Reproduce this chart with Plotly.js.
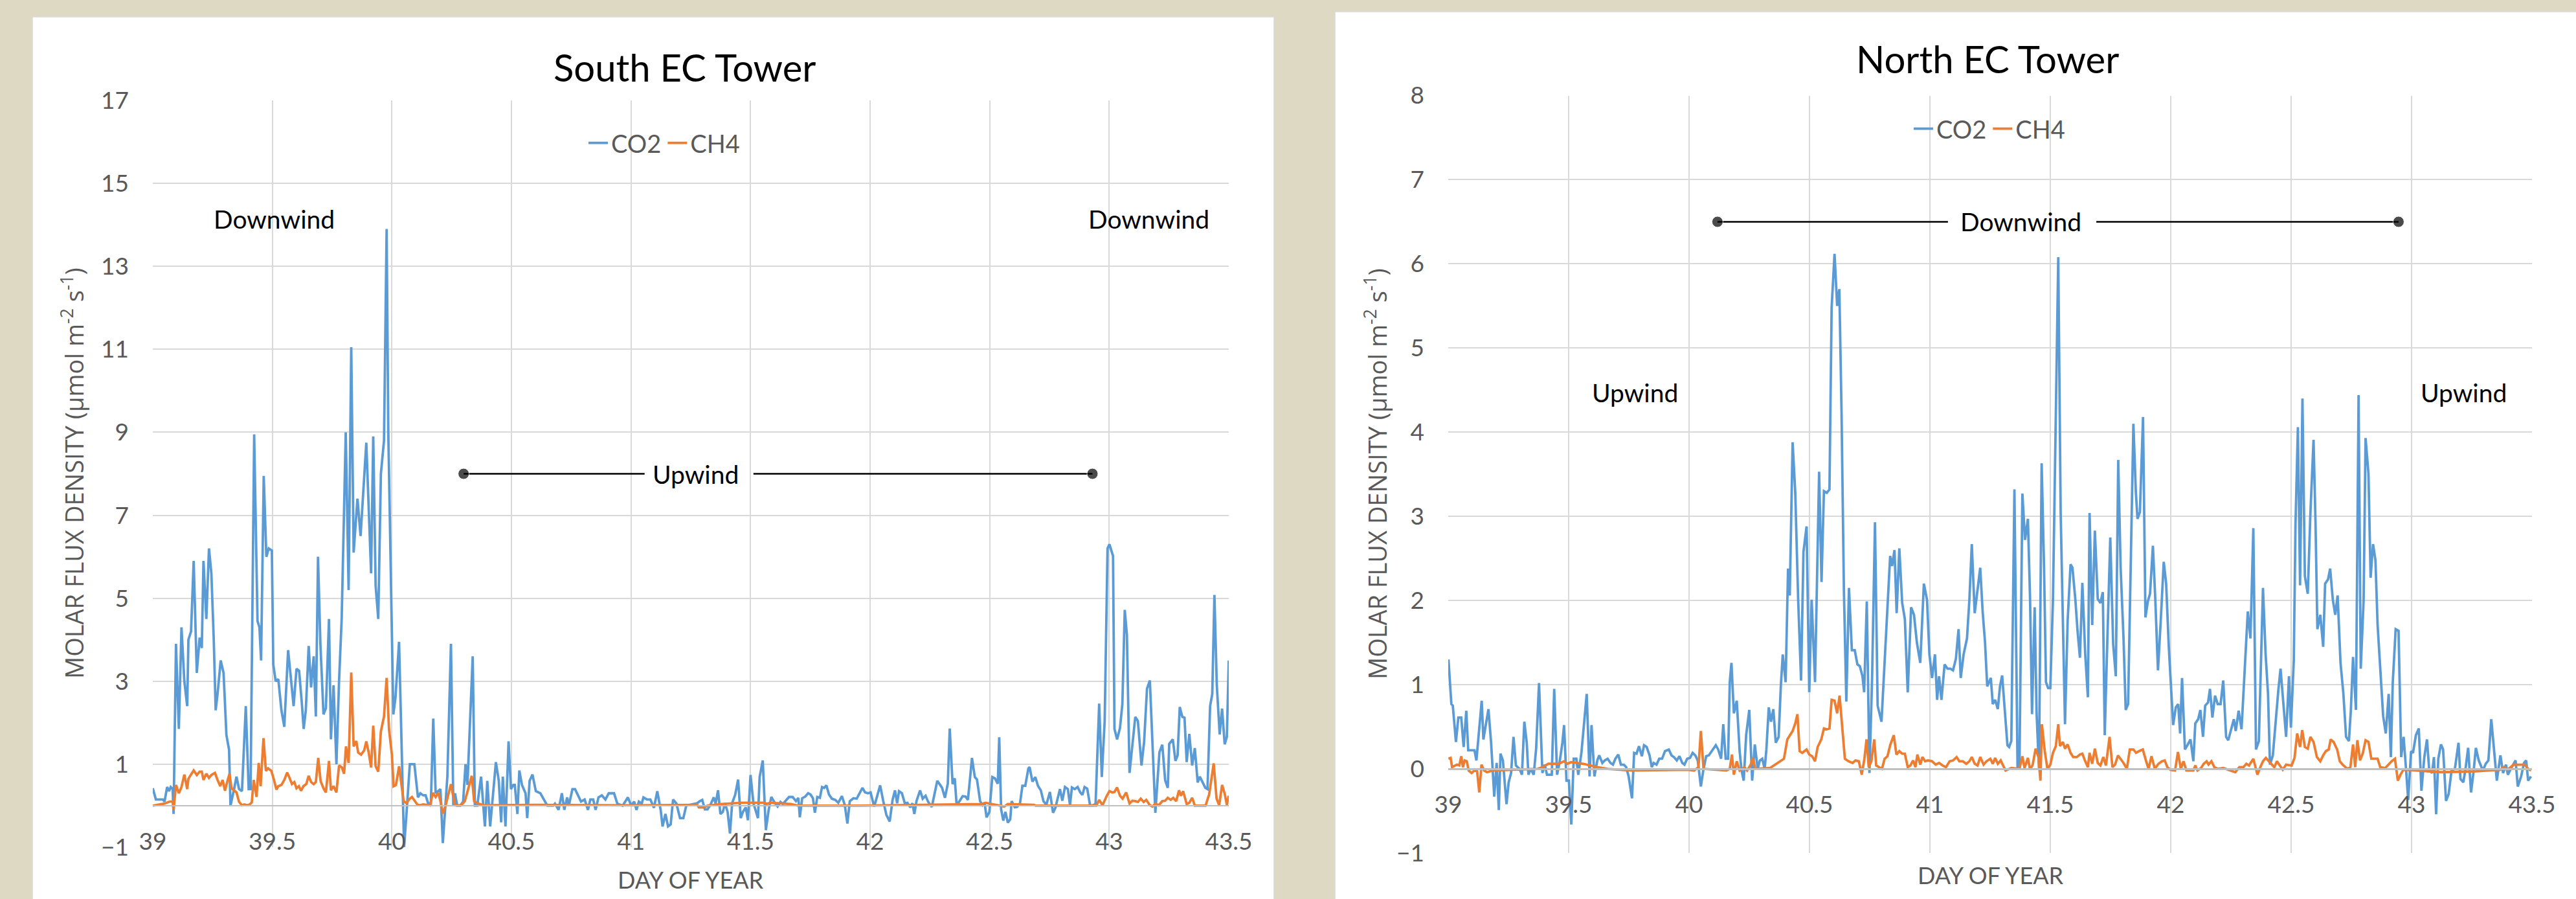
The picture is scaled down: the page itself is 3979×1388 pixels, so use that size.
<!DOCTYPE html>
<html>
<head>
<meta charset="utf-8">
<script src="https://cdn.plot.ly/plotly-3.0.1.min.js"></script>
<style>
  html, body { margin: 0; padding: 0; background: #DDD9C3; }
  #chart { width: 3979px; height: 1388px; }
</style>
</head>
<body>
<div id="chart"></div>
<script>
// ---------- DATA (day of year, molar flux density µmol m-2 s-1) ----------
const southCO2Day = [39.000,39.013,39.042,39.049,39.060,39.068,39.075,39.083,39.087,39.097,39.109,39.120,39.132,39.144,39.149,39.160,39.171,39.184,39.196,39.205,39.212,39.224,39.235,39.245,39.255,39.263,39.271,39.284,39.296,39.308,39.319,39.325,39.340,39.350,39.361,39.373,39.389,39.401,39.409,39.424,39.438,39.446,39.453,39.464,39.475,39.485,39.498,39.504,39.514,39.525,39.538,39.550,39.566,39.576,39.589,39.601,39.612,39.623,39.631,39.640,39.652,39.662,39.673,39.682,39.691,39.701,39.714,39.724,39.737,39.745,39.756,39.768,39.779,39.790,39.807,39.819,39.830,39.840,39.856,39.869,39.893,39.913,39.922,39.932,39.943,39.954,39.967,39.978,39.985,40.006,40.015,40.030,40.044,40.051,40.061,40.067,40.075,40.094,40.109,40.119,40.131,40.141,40.152,40.163,40.173,40.183,40.193,40.203,40.213,40.222,40.232,40.247,40.257,40.264,40.273,40.286,40.298,40.308,40.316,40.338,40.347,40.357,40.373,40.389,40.399,40.411,40.435,40.447,40.457,40.464,40.475,40.488,40.498,40.508,40.514,40.525,40.533,40.544,40.559,40.566,40.576,40.588,40.602,40.621,40.639,40.650,40.675,40.682,40.697,40.711,40.721,40.733,40.740,40.755,40.766,40.779,40.791,40.806,40.820,40.830,40.842,40.852,40.864,40.878,40.893,40.907,40.922,40.929,40.943,40.965,40.987,41.001,41.013,41.023,41.033,41.045,41.052,41.067,41.081,41.096,41.110,41.124,41.132,41.144,41.155,41.166,41.176,41.190,41.205,41.219,41.231,41.277,41.288,41.298,41.309,41.320,41.332,41.346,41.354,41.364,41.374,41.384,41.393,41.404,41.414,41.423,41.436,41.448,41.459,41.468,41.480,41.489,41.500,41.512,41.520,41.531,41.538,41.551,41.564,41.576,41.587,41.599,41.613,41.625,41.635,41.647,41.661,41.676,41.690,41.700,41.706,41.716,41.729,41.741,41.751,41.761,41.769,41.779,41.790,41.799,41.808,41.817,41.828,41.840,41.854,41.867,41.882,41.894,41.905,41.915,41.930,41.944,41.956,41.968,41.979,41.991,42.002,42.017,42.029,42.042,42.055,42.068,42.082,42.094,42.104,42.113,42.121,42.133,42.145,42.156,42.168,42.177,42.185,42.194,42.209,42.220,42.232,42.243,42.258,42.271,42.281,42.293,42.301,42.313,42.325,42.333,42.345,42.354,42.362,42.374,42.387,42.399,42.409,42.418,42.426,42.438,42.447,42.460,42.470,42.479,42.487,42.499,42.511,42.522,42.534,42.540,42.548,42.557,42.566,42.576,42.586,42.592,42.605,42.615,42.627,42.637,42.649,42.662,42.667,42.679,42.691,42.702,42.714,42.725,42.737,42.752,42.765,42.775,42.786,42.794,42.804,42.815,42.827,42.836,42.844,42.856,42.868,42.879,42.888,42.897,42.908,42.920,42.932,42.943,42.958,42.969,42.981,42.993,43.001,43.016,43.022,43.033,43.045,43.055,43.065,43.074,43.085,43.097,43.109,43.120,43.135,43.146,43.158,43.170,43.178,43.193,43.210,43.222,43.234,43.245,43.251,43.266,43.277,43.286,43.295,43.306,43.315,43.324,43.335,43.347,43.358,43.370,43.379,43.390,43.402,43.411,43.422,43.431,43.440,43.450,43.462,43.472,43.483,43.492,43.500];
const southCO2 = [0.42,0.15,0.15,0.10,0.45,0.35,0.45,0.40,-0.20,3.90,1.85,4.30,3.00,2.40,4.00,4.20,5.90,3.20,4.05,3.80,5.90,4.50,6.20,5.60,4.00,2.30,2.70,3.50,3.20,1.70,1.35,0.00,0.40,0.70,0.40,0.35,2.40,0.40,0.40,8.95,4.45,4.30,3.50,7.95,6.00,6.20,6.15,3.40,3.00,3.05,2.30,1.90,3.75,3.10,2.40,3.30,3.25,2.50,1.85,2.30,3.85,2.85,3.60,2.15,6.00,3.90,2.20,2.35,4.50,1.60,2.90,1.00,3.00,4.50,9.00,5.20,11.05,6.10,7.40,6.50,8.75,5.60,8.90,5.30,4.50,8.00,8.80,13.90,9.00,2.20,2.60,3.95,0.45,-1.00,-0.20,0.40,1.00,1.00,0.20,0.30,0.25,0.25,0.05,0.05,2.10,0.30,0.35,0.40,-0.90,-0.10,0.70,3.90,0.00,0.30,0.00,0.00,0.10,1.00,0.50,3.60,0.00,0.00,0.70,-0.50,0.60,-0.50,1.05,0.60,-0.40,0.70,-0.50,1.55,0.40,0.50,0.50,-0.20,0.85,0.50,0.30,-0.30,0.60,0.75,0.35,0.30,0.10,0.00,0.00,0.05,-0.10,0.30,-0.10,0.20,0.00,0.40,0.40,0.25,0.10,0.15,-0.10,0.15,0.15,-0.10,0.20,0.25,0.15,0.30,0.30,0.30,0.05,0.00,0.20,0.00,0.10,-0.10,0.10,0.05,0.20,0.15,0.15,-0.05,0.35,-0.10,-0.50,-0.20,-0.50,-0.45,0.15,0.05,-0.30,-0.30,0.00,0.06,0.11,0.14,-0.09,-0.09,0.02,0.20,0.05,0.37,-0.20,-0.15,0.06,-0.15,-0.67,0.06,0.27,0.63,-0.30,-0.15,-0.04,-0.35,0.74,0.06,-0.09,-0.30,0.69,1.09,-0.59,-0.09,0.21,0.09,-0.02,0.09,0.04,0.11,0.21,0.21,0.11,0.19,-0.28,0.18,0.22,0.30,0.27,0.18,-0.17,0.21,0.19,0.45,0.43,0.49,0.27,0.17,0.14,0.07,0.23,0.02,-0.43,0.11,0.18,0.17,0.30,0.43,0.32,0.30,0.32,-0.02,0.22,0.49,0.11,-0.22,-0.38,0.14,0.37,0.06,0.35,0.30,0.06,0.07,-0.04,0.06,-0.20,0.11,0.37,0.17,0.24,0.09,-0.03,0.32,0.60,0.50,0.43,0.19,0.53,1.86,0.52,0.66,0.01,0.11,0.23,0.22,0.14,0.66,1.15,0.69,0.63,0.11,0.01,0.06,-0.28,-0.15,0.69,0.66,0.53,1.65,-0.09,-0.36,-0.15,-0.41,-0.33,0.11,-0.04,-0.03,0.06,0.48,0.48,0.90,0.93,0.58,0.69,0.48,0.37,0.11,0.02,0.33,-0.17,-0.05,0.23,0.40,0.12,0.45,0.40,0.01,0.44,0.40,0.45,0.32,0.26,0.45,0.41,0.01,0.01,0.04,2.46,0.69,2.04,6.20,6.30,6.02,1.85,1.60,1.87,2.45,4.72,4.12,0.79,1.42,2.14,2.04,0.97,1.54,2.82,3.02,1.93,-0.17,1.29,1.47,0.61,0.43,1.49,1.60,1.08,1.21,2.38,2.14,2.12,1.05,1.73,0.97,1.39,0.56,0.70,0.58,0.43,0.40,2.40,2.69,5.08,2.90,1.72,2.34,1.48,1.66,3.50];

const southCH4Day = [39.000,39.049,39.071,39.083,39.087,39.097,39.109,39.120,39.132,39.144,39.149,39.160,39.171,39.184,39.196,39.205,39.212,39.224,39.235,39.245,39.260,39.271,39.282,39.292,39.302,39.311,39.321,39.329,39.340,39.350,39.361,39.373,39.383,39.395,39.405,39.414,39.422,39.434,39.443,39.451,39.463,39.473,39.482,39.496,39.507,39.517,39.525,39.538,39.550,39.562,39.572,39.582,39.592,39.601,39.611,39.620,39.630,39.642,39.652,39.662,39.673,39.682,39.692,39.702,39.714,39.724,39.737,39.745,39.756,39.768,39.779,39.791,39.800,39.808,39.819,39.830,39.840,39.851,39.859,39.871,39.884,39.893,39.903,39.913,39.922,39.932,39.943,39.954,39.967,39.978,39.988,40.000,40.007,40.017,40.030,40.041,40.049,40.061,40.073,40.084,40.096,40.106,40.116,40.131,40.160,40.171,40.183,40.194,40.203,40.213,40.225,40.239,40.247,40.257,40.264,40.290,40.305,40.319,40.334,40.344,40.356,40.385,40.600,41.000,41.233,41.277,41.284,41.306,41.320,41.378,41.465,41.560,41.567,41.581,41.669,41.698,41.959,42.365,42.467,42.482,42.547,42.561,42.576,42.685,42.692,42.946,42.958,42.972,42.990,43.001,43.013,43.022,43.033,43.045,43.056,43.071,43.085,43.097,43.109,43.120,43.132,43.144,43.155,43.170,43.181,43.193,43.207,43.222,43.234,43.245,43.257,43.268,43.280,43.292,43.300,43.309,43.324,43.335,43.347,43.358,43.403,43.418,43.437,43.449,43.460,43.472,43.483,43.492,43.500];
const southCH4 = [0.00,0.05,0.10,0.10,-0.10,0.50,0.30,0.45,0.75,0.40,0.65,0.75,0.85,0.74,0.82,0.82,0.62,0.77,0.67,0.74,0.79,0.62,0.47,0.62,0.36,0.57,0.77,0.42,0.37,0.32,0.09,0.01,0.03,0.01,0.03,0.08,0.62,0.21,1.03,0.47,1.63,0.84,0.90,0.84,0.62,0.39,0.47,0.50,0.62,0.80,0.67,0.52,0.57,0.42,0.47,0.36,0.47,0.52,0.72,0.57,0.52,0.57,1.15,0.59,0.42,0.32,1.08,0.37,0.47,0.32,0.97,0.92,0.77,1.43,1.03,3.21,1.43,1.56,1.28,1.23,1.33,1.55,1.28,0.92,1.93,0.95,0.82,1.79,2.15,3.08,1.84,1.23,0.47,0.50,0.95,0.52,0.11,0.06,0.16,0.21,0.11,0.03,0.01,0.03,0.01,0.31,0.21,0.31,0.11,-0.19,0.01,0.31,0.52,0.21,0.01,0.01,0.11,0.40,0.72,0.11,0.06,0.01,0.02,0.01,0.02,0.02,-0.04,-0.04,0.00,0.04,0.07,0.07,0.04,0.07,0.04,0.00,0.00,0.04,0.04,0.07,0.00,-0.02,0.04,0.02,0.00,0.00,0.14,0.01,0.24,0.35,0.32,0.33,0.44,0.24,0.17,0.32,0.05,0.12,0.11,0.09,0.17,0.09,0.14,0.01,-0.02,0.05,0.01,0.11,0.12,0.19,0.14,0.19,0.11,0.37,0.24,0.35,0.04,0.07,0.19,0.00,0.00,0.27,1.02,0.17,0.01,0.50,0.29,0.02,0.24];

const northCO2Day = [39.001,39.013,39.019,39.032,39.042,39.054,39.064,39.075,39.083,39.094,39.109,39.117,39.126,39.139,39.146,39.155,39.167,39.178,39.191,39.201,39.210,39.217,39.227,39.242,39.251,39.261,39.271,39.281,39.296,39.306,39.316,39.326,39.333,39.343,39.355,39.365,39.377,39.391,39.401,39.410,39.420,39.430,39.440,39.452,39.462,39.474,39.481,39.491,39.501,39.511,39.521,39.532,39.540,39.553,39.575,39.587,39.595,39.607,39.619,39.627,39.640,39.650,39.662,39.674,39.684,39.694,39.706,39.717,39.729,39.739,39.749,39.763,39.772,39.782,39.792,39.804,39.813,39.824,39.836,39.845,39.853,39.865,39.876,39.888,39.900,39.916,39.927,39.937,39.949,39.960,39.972,39.981,39.992,40.004,40.015,40.026,40.036,40.049,40.059,40.071,40.082,40.097,40.111,40.121,40.133,40.142,40.152,40.162,40.169,40.176,40.186,40.198,40.210,40.218,40.227,40.237,40.250,40.262,40.273,40.285,40.294,40.304,40.314,40.321,40.331,40.340,40.350,40.360,40.372,40.381,40.389,40.401,40.411,40.418,40.430,40.441,40.453,40.465,40.475,40.488,40.499,40.509,40.523,40.540,40.550,40.560,40.572,40.583,40.592,40.604,40.615,40.624,40.633,40.643,40.653,40.664,40.676,40.688,40.699,40.709,40.720,40.727,40.738,40.749,40.760,40.772,40.783,40.799,40.812,40.824,40.835,40.843,40.853,40.862,40.873,40.885,40.896,40.908,40.922,40.934,40.946,40.960,40.975,40.988,40.998,41.009,41.021,41.030,41.038,41.048,41.061,41.073,41.085,41.096,41.108,41.119,41.128,41.140,41.154,41.164,41.174,41.186,41.198,41.209,41.219,41.229,41.238,41.253,41.261,41.271,41.282,41.291,41.300,41.311,41.322,41.329,41.338,41.351,41.364,41.372,41.384,41.395,41.407,41.416,41.424,41.435,41.443,41.453,41.464,41.474,41.482,41.491,41.500,41.511,41.523,41.533,41.543,41.552,41.561,41.572,41.584,41.592,41.604,41.613,41.623,41.633,41.645,41.656,41.663,41.674,41.685,41.697,41.708,41.718,41.726,41.737,41.749,41.761,41.772,41.782,41.792,41.804,41.813,41.823,41.833,41.845,41.855,41.862,41.872,41.885,41.895,41.905,41.914,41.926,41.936,41.947,41.958,41.971,41.981,41.992,42.010,42.021,42.031,42.039,42.047,42.059,42.071,42.082,42.094,42.102,42.114,42.123,42.134,42.143,42.155,42.163,42.173,42.184,42.195,42.207,42.218,42.230,42.239,42.250,42.262,42.270,42.282,42.294,42.305,42.320,42.331,42.343,42.354,42.366,42.383,42.394,42.404,42.412,42.424,42.436,42.447,42.456,42.467,42.479,42.491,42.499,42.511,42.518,42.528,42.537,42.547,42.557,42.569,42.580,42.593,42.601,42.609,42.621,42.633,42.641,42.653,42.662,42.673,42.683,42.693,42.705,42.717,42.728,42.740,42.748,42.757,42.769,42.780,42.789,42.801,42.809,42.821,42.830,42.840,42.850,42.859,42.870,42.882,42.893,42.905,42.914,42.922,42.934,42.946,42.957,42.967,42.977,42.986,42.998,43.006,43.018,43.030,43.041,43.053,43.064,43.073,43.085,43.093,43.102,43.111,43.122,43.131,43.143,43.154,43.166,43.180,43.195,43.203,43.215,43.224,43.235,43.247,43.258,43.267,43.279,43.287,43.296,43.308,43.319,43.331,43.342,43.354,43.369,43.380,43.392,43.400,43.412,43.424,43.432,43.441,43.455,43.467,43.476,43.484,43.496];
const northCO2 = [1.30,0.77,0.75,0.32,0.61,0.61,0.26,0.69,0.22,0.22,0.22,0.10,0.42,0.81,0.35,0.52,0.71,0.31,-0.33,0.07,-0.49,0.18,0.10,-0.42,-0.16,-0.05,0.38,0.04,0.00,-0.07,0.56,0.31,-0.07,0.00,-0.07,0.24,1.02,-0.05,0.05,-0.07,-0.07,-0.07,0.95,-0.07,0.07,0.31,0.52,-0.14,-0.14,-0.66,0.12,0.12,-0.07,0.19,0.89,-0.09,0.52,-0.09,0.10,0.16,0.07,0.10,0.12,0.07,0.05,0.12,0.17,0.05,0.05,0.02,-0.09,-0.35,0.19,0.18,0.27,0.15,0.28,0.26,0.16,0.02,0.07,0.05,0.12,0.12,0.21,0.23,0.16,0.14,0.10,0.15,0.07,0.05,0.12,0.13,0.19,0.16,0.10,-0.21,-0.02,0.15,0.16,0.22,0.28,0.23,0.12,0.53,0.12,0.12,1.03,1.26,0.66,0.81,0.21,-0.02,-0.14,0.40,0.70,-0.14,0.29,0.00,0.10,0.12,0.00,0.23,0.73,0.56,0.71,0.31,0.38,0.98,1.36,1.03,2.38,2.06,3.88,3.28,2.01,1.05,2.58,2.88,0.91,2.01,1.03,3.53,2.22,3.30,3.28,3.32,5.48,6.12,5.50,5.70,4.26,2.11,0.80,2.15,1.41,1.41,1.24,1.22,1.10,0.91,1.99,-0.05,1.08,2.93,0.75,0.56,1.31,1.92,2.53,2.41,2.60,1.85,2.62,1.97,1.78,0.91,1.92,1.83,1.50,1.26,2.20,2.01,1.36,1.08,1.36,0.82,1.10,0.82,1.24,1.19,1.19,1.17,1.31,1.66,1.08,1.36,1.55,2.01,2.67,1.85,2.11,2.39,1.87,1.50,0.98,1.08,0.77,0.82,0.71,0.98,1.11,0.70,0.28,0.26,0.33,3.32,0.00,0.05,3.27,2.72,2.97,2.01,0.65,1.92,0.66,0.00,3.63,2.39,1.03,0.96,0.96,2.01,4.45,6.08,3.04,1.59,0.53,1.76,2.43,2.39,2.01,1.64,1.32,2.21,1.36,0.85,3.04,1.71,2.83,2.02,1.97,2.10,0.40,1.55,2.75,1.48,1.10,3.67,2.39,1.55,0.70,0.77,2.20,4.10,3.30,2.97,3.05,4.18,1.80,1.99,2.08,2.65,2.01,1.17,1.73,2.46,2.20,1.45,0.52,0.73,0.77,0.42,1.08,0.23,0.29,0.35,0.09,0.54,0.59,0.70,0.38,0.75,0.79,0.95,0.61,0.87,0.77,0.77,1.05,0.38,0.34,0.47,0.59,0.45,0.69,0.47,1.08,1.87,1.55,2.86,0.23,0.33,2.15,1.36,0.89,0.05,0.16,0.59,0.94,1.19,0.82,0.38,1.10,0.49,1.29,2.90,4.06,2.18,4.40,2.29,2.08,3.04,3.91,2.95,1.66,1.83,1.45,2.20,2.25,2.38,2.01,1.83,2.06,1.26,0.89,0.38,0.33,0.70,1.33,0.70,4.44,1.19,2.01,3.93,3.51,2.27,2.67,2.48,1.71,1.17,0.63,0.42,0.89,0.14,1.03,1.66,1.64,0.14,0.38,0.00,-0.37,0.21,0.19,0.40,0.48,-0.26,0.14,0.35,0.00,-0.05,0.14,-0.54,0.12,0.29,0.23,-0.38,-0.30,-0.02,0.00,0.31,-0.12,-0.16,0.00,0.25,-0.28,-0.02,0.25,0.10,0.05,-0.02,0.06,0.10,0.59,0.23,-0.14,0.16,-0.05,0.05,-0.07,0.00,0.07,0.10,-0.21,-0.09,0.07,0.10,-0.14,-0.09];

const northCH4Day = [39.001,39.010,39.016,39.036,39.046,39.054,39.061,39.068,39.077,39.085,39.097,39.109,39.120,39.129,39.138,39.149,39.161,39.184,39.271,39.372,39.391,39.416,39.459,39.481,39.495,39.510,39.532,39.561,39.590,39.619,39.662,39.763,39.995,40.021,40.039,40.049,40.060,40.126,40.155,40.169,40.178,40.186,40.198,40.210,40.230,40.241,40.256,40.265,40.275,40.336,40.357,40.372,40.394,40.408,40.420,40.430,40.441,40.450,40.459,40.470,40.488,40.499,40.511,40.523,40.534,40.549,40.560,40.572,40.583,40.592,40.604,40.615,40.625,40.636,40.647,40.662,40.679,40.691,40.705,40.717,40.728,40.737,40.746,40.757,40.769,40.777,40.801,40.812,40.824,40.835,40.850,40.861,40.873,40.885,40.896,40.908,40.919,40.930,40.940,40.948,40.960,40.969,40.980,40.992,41.009,41.024,41.038,41.053,41.067,41.082,41.096,41.111,41.122,41.137,41.151,41.164,41.174,41.186,41.198,41.209,41.223,41.235,41.251,41.261,41.271,41.282,41.294,41.304,41.314,41.338,41.372,41.384,41.393,41.407,41.416,41.427,41.439,41.451,41.459,41.465,41.477,41.488,41.500,41.511,41.523,41.533,41.540,41.552,41.561,41.572,41.584,41.595,41.610,41.623,41.633,41.645,41.656,41.663,41.674,41.685,41.697,41.708,41.720,41.731,41.746,41.758,41.769,41.781,41.792,41.804,41.818,41.830,41.845,41.856,41.868,41.884,41.898,41.908,41.920,41.934,41.949,41.963,41.975,41.986,41.998,42.018,42.030,42.042,42.053,42.065,42.094,42.102,42.111,42.126,42.137,42.149,42.157,42.169,42.181,42.195,42.218,42.241,42.268,42.285,42.302,42.314,42.325,42.343,42.360,42.372,42.383,42.395,42.407,42.418,42.430,42.441,42.453,42.465,42.479,42.502,42.514,42.525,42.537,42.546,42.557,42.569,42.580,42.593,42.607,42.621,42.633,42.644,42.656,42.664,42.676,42.691,42.702,42.714,42.734,42.746,42.757,42.766,42.775,42.786,42.798,42.809,42.821,42.833,42.859,42.870,42.891,42.917,42.931,42.943,42.954,42.966,43.021,43.122,43.267,43.369,43.383,43.398,43.424,43.470,43.484,43.496];
const northCH4 = [0.12,0.13,0.02,0.05,0.04,0.15,0.02,0.10,0.09,-0.02,-0.05,-0.02,-0.03,-0.28,0.05,-0.02,-0.04,-0.02,-0.01,0.00,0.02,0.06,0.06,0.09,0.06,0.08,0.07,0.06,0.04,0.02,0.00,-0.02,-0.01,-0.02,0.02,0.45,0.00,-0.01,-0.02,0.00,0.17,-0.07,0.09,-0.02,0.02,-0.02,0.05,0.13,0.00,0.01,0.05,0.07,0.12,0.35,0.40,0.45,0.54,0.65,0.21,0.19,0.23,0.17,0.15,0.09,0.26,0.35,0.48,0.47,0.48,0.82,0.81,0.66,0.87,0.47,0.12,0.09,0.07,0.10,0.09,-0.07,0.12,0.35,0.02,0.09,0.35,0.04,0.00,0.12,0.15,0.28,0.40,0.17,0.21,0.18,0.18,0.02,0.04,0.10,0.02,0.17,0.05,0.14,0.09,0.10,0.09,0.05,0.07,0.04,0.02,0.09,0.10,0.14,0.09,0.09,0.06,0.09,0.14,0.06,0.04,0.14,0.05,0.09,0.12,0.06,0.13,0.06,0.10,0.04,-0.02,0.01,0.00,0.15,0.01,0.13,-0.01,0.05,0.24,0.14,-0.14,0.53,0.21,0.00,0.05,0.19,0.27,0.53,0.27,0.32,0.24,0.29,0.19,0.14,0.14,0.17,0.18,0.09,0.02,0.19,0.06,0.24,0.07,0.04,0.14,0.04,0.38,0.02,0.05,0.16,0.12,0.07,0.00,0.23,0.23,0.19,0.21,0.23,0.09,0.00,0.15,0.00,0.06,0.09,0.10,0.02,-0.01,-0.02,0.20,0.00,0.09,-0.02,-0.02,0.04,-0.02,0.01,0.06,0.09,0.05,0.09,0.02,0.00,0.01,-0.01,-0.04,0.02,0.02,0.06,0.04,0.12,-0.07,0.02,0.09,0.13,0.09,0.05,0.02,0.09,0.04,-0.01,0.05,0.04,0.13,0.42,0.26,0.46,0.26,0.24,0.38,0.32,0.14,0.09,0.16,0.21,0.23,0.35,0.32,0.23,0.09,0.05,0.00,0.02,0.29,0.02,0.34,0.10,0.19,0.34,0.32,0.12,0.12,0.02,0.01,0.09,0.12,-0.14,-0.07,-0.01,-0.02,-0.04,-0.03,-0.01,0.02,-0.01,0.05,0.05,0.00,-0.02];

// wind-direction bracket annotations
const southUpwindSpan = [40.30, 41.057, null, 41.512, 42.93];
const southUpwindLevel = [8, 8, null, 8, 8];
const northDownwindSpan = [40.118, 41.075, null, 41.691, 42.946];
const northDownwindLevel = [6.5, 6.5, null, 6.5, 6.5];

const xTicks = [39, 39.5, 40, 40.5, 41, 41.5, 42, 42.5, 43, 43.5];

// ---------- STYLE ----------
const BLUE = '#5B9BD5', ORANGE = '#ED7D31', GRID = '#D9D9D9', TXT = '#595959';
const FONT = 'Lato, "Liberation Sans", sans-serif';
const W = 3979, H = 1388;
const px = v => v / W, py = v => 1 - v / H;

const endMarkers = { size: [17, 0, 0, 0, 17], color: '#000' };

const traces = [
  { x: southCO2Day, y: southCO2, name: 'CO2', type: 'scatter', mode: 'lines', xaxis: 'x', yaxis: 'y', legend: 'legend',
    line: { color: BLUE, width: 3.8 }, hoverinfo: 'skip' },
  { x: southCH4Day, y: southCH4, name: 'CH4', type: 'scatter', mode: 'lines', xaxis: 'x', yaxis: 'y', legend: 'legend',
    line: { color: ORANGE, width: 3.8 }, hoverinfo: 'skip' },
  { x: northCO2Day, y: northCO2, name: 'CO2', type: 'scatter', mode: 'lines', xaxis: 'x2', yaxis: 'y2', legend: 'legend2',
    line: { color: BLUE, width: 3.8 }, hoverinfo: 'skip' },
  { x: northCH4Day, y: northCH4, name: 'CH4', type: 'scatter', mode: 'lines', xaxis: 'x2', yaxis: 'y2', legend: 'legend2',
    line: { color: ORANGE, width: 3.8 }, hoverinfo: 'skip' },
  { x: southUpwindSpan, y: southUpwindLevel, type: 'scatter', mode: 'lines+markers', xaxis: 'x', yaxis: 'y', showlegend: false,
    line: { color: '#000', width: 2.5 }, marker: endMarkers, connectgaps: false, hoverinfo: 'skip' },
  { x: northDownwindSpan, y: northDownwindLevel, type: 'scatter', mode: 'lines+markers', xaxis: 'x2', yaxis: 'y2', showlegend: false,
    line: { color: '#000', width: 2.5 }, marker: endMarkers, connectgaps: false, hoverinfo: 'skip' }
];

const leftY = [py(1308), py(155)], rightY = [py(1317), py(147.5)];

function xAxis(domain, yDom, yRange) {
  return {
    domain: domain, range: [39, 43.5], tickvals: xTicks, ticktext: xTicks.map(String),
    showgrid: true, gridcolor: GRID, gridwidth: 2, zeroline: false,
    anchor: 'free', position: yDom[0] + (yDom[1] - yDom[0]) * (0 - yRange[0]) / (yRange[1] - yRange[0]),
    showline: true, linecolor: '#BFBFBF', linewidth: 2.5, ticks: '', ticklabelstandoff: 22,
    tickfont: { family: FONT, size: 37, color: TXT }, fixedrange: true
  };
}
function yAxis(domain, range, dtick, anchor) {
  return {
    domain: domain, range: range, tick0: range[0], dtick: dtick, anchor: anchor,
    showgrid: true, gridcolor: GRID, gridwidth: 2, zeroline: false, showline: false,
    ticks: '', ticklabelstandoff: 36, tickfont: { family: FONT, size: 37, color: TXT }, fixedrange: true
  };
}

const yTitle = 'MOLAR FLUX DENSITY (µmol m<sup>-2</sup> s<sup>-1</sup>)';
const ann = (o) => Object.assign({ showarrow: false, xanchor: 'center', yanchor: 'middle',
  font: { family: FONT, size: 39, color: '#000' } }, o);
const YT_FONT = { family: '"Open Sans", "DejaVu Sans", sans-serif', size: 38, color: TXT };

const layout = {
  width: W, height: H, margin: { l: 0, r: 0, t: 0, b: 0 },
  paper_bgcolor: '#DDD9C3', plot_bgcolor: '#FFFFFF',
  xaxis: xAxis([px(236), px(1898)], leftY, [-1, 17]),
  yaxis: yAxis(leftY, [-1, 17], 2, 'x'),
  xaxis2: xAxis([px(2237), px(3911)], rightY, [-1, 8]),
  yaxis2: yAxis(rightY, [-1, 8], 1, 'x2'),
  legend: { x: px(1026), y: py(221), xanchor: 'center', yanchor: 'middle', orientation: 'h',
    font: { family: FONT, size: 38, color: TXT }, bgcolor: 'rgba(0,0,0,0)' },
  legend2: { x: px(3073), y: py(199), xanchor: 'center', yanchor: 'middle', orientation: 'h',
    font: { family: FONT, size: 38, color: TXT }, bgcolor: 'rgba(0,0,0,0)' },
  shapes: [
    { type: 'rect', xref: 'paper', yref: 'paper', x0: px(50), x1: px(1968), y0: -0.02, y1: py(26),
      fillcolor: '#FFFFFF', line: { color: '#D9D9D9', width: 1.5 }, layer: 'below' },
    { type: 'rect', xref: 'paper', yref: 'paper', x0: px(2062), x1: 1.02, y0: -0.02, y1: py(18),
      fillcolor: '#FFFFFF', line: { color: '#D9D9D9', width: 1.5 }, layer: 'below' }
  ],
  annotations: [
    ann({ xref: 'paper', yref: 'paper', x: px(1057), y: py(103), text: 'South EC Tower', font: { family: FONT, size: 58, color: '#000' } }),
    ann({ xref: 'paper', yref: 'paper', x: px(3070), y: py(90), text: 'North EC Tower', font: { family: FONT, size: 58, color: '#000' } }),
    ann({ xref: 'paper', yref: 'paper', x: px(1067), y: py(1358), text: 'DAY OF YEAR', font: { family: FONT, size: 36, color: TXT } }),
    ann({ xref: 'paper', yref: 'paper', x: px(3075), y: py(1351), text: 'DAY OF YEAR', font: { family: FONT, size: 36, color: TXT } }),
    ann({ xref: 'paper', yref: 'paper', x: px(112), y: py(731), text: yTitle, textangle: -90, font: YT_FONT }),
    ann({ xref: 'paper', yref: 'paper', x: px(2125), y: py(732), text: yTitle, textangle: -90, font: YT_FONT }),
    ann({ xref: 'x', yref: 'y', x: 39.508, y: 14.14, text: 'Downwind' }),
    ann({ xref: 'x', yref: 'y', x: 43.165, y: 14.14, text: 'Downwind' }),
    ann({ xref: 'x', yref: 'y', x: 41.27, y: 8.0, text: 'Upwind' }),
    ann({ xref: 'x2', yref: 'y2', x: 41.378, y: 6.5, text: 'Downwind' }),
    ann({ xref: 'x2', yref: 'y2', x: 39.776, y: 4.47, text: 'Upwind' }),
    ann({ xref: 'x2', yref: 'y2', x: 43.216, y: 4.47, text: 'Upwind' })
  ]
};

Plotly.newPlot('chart', traces, layout, { staticPlot: true, displayModeBar: false });
</script>
</body>
</html>
